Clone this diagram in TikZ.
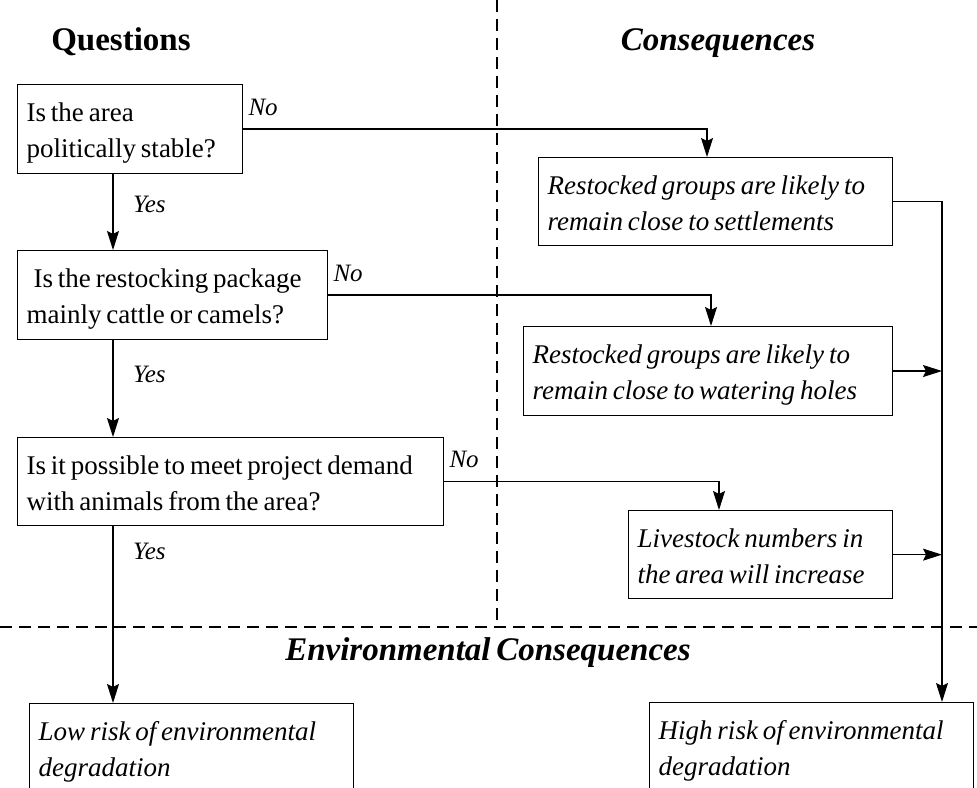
\documentclass[tikz,border=0pt]{standalone}
\usepackage{fontspec}
\setmainfont{Liberation Serif}[WordSpace=0.7]
\usetikzlibrary{arrows.meta}
\newcommand{\bxtop}{\hyphenpenalty=10000\spaceskip=0.18em\noindent\rule{0pt}{27pt}}
\newcommand{\bxbot}{\rule[-5pt]{0pt}{5pt}}

\begin{document}
\begin{tikzpicture}[x=1pt,y=-1pt,
  box/.style={draw,line width=1.3pt,anchor=north west,inner xsep=9pt,inner ysep=10pt,align=left,
    font=\fontsize{27}{36}\selectfont,execute at begin node=\bxtop,execute at end node=\bxbot},
  cbox/.style={box,font=\fontsize{27}{36}\selectfont\itshape},
  lbl/.style={font=\fontsize{25}{30}\selectfont\itshape,anchor=base west,inner sep=0pt},
  ttl/.style={font=\fontsize{33}{40}\selectfont\bfseries,anchor=base,inner sep=0pt},
  ittl/.style={ttl,font=\fontsize{33}{40}\selectfont\bfseries\itshape},
  arr/.style={line width=1.2pt,-{Stealth[length=19pt,width=12pt,inset=3pt]}},
  sep/.style={line width=2.2pt,dash pattern=on 12pt off 7pt}]
  \clip (0,0) rectangle (977,787);
  \draw[sep] (0,627) -- (977,627);
  \draw[sep] (497,0) -- (497,627);
  \node[ttl] (tq) at (121,50) {Questions};
  \node[ittl] (tc) at (718,50) {Consequences};
  \node[ittl] (te) at (488,660) {Environmental Consequences};
  \node[box,text width=207pt] (q1) at (17,84) {Is the area\\politically stable?};
  \node[box,text width=292pt] (q2) at (17,250) {\hspace*{7pt}Is the restocking package\\mainly cattle or camels?};
  \node[box,text width=408pt] (q3) at (17,437) {Is it possible to meet project demand\\with animals from the area?};
  \node[cbox,text width=336pt] (c1) at (538,157) {Restocked groups are likely to\\remain close to settlements};
  \node[cbox,text width=351pt] (c2) at (523,326) {Restocked groups are likely to\\remain close to watering holes};
  \node[cbox,text width=246pt] (c3) at (628,510) {Livestock numbers in\\the area will increase};
  \node[cbox,text width=306pt] (low) at (29,703) {Low risk of environmental\\degradation};
  \node[cbox,text width=306pt] (high) at (649,702) {High risk of environmental\\degradation};
  \foreach \n/\b in {1/q1,2/q2,3/q3}{\node[lbl] (no\n) at ([xshift=5pt,yshift=14pt]\b.east) {No};}
  \foreach \n/\y in {1/212,2/382,3/559}{\node[lbl] (yes\n) at (133,\y) {Yes};}
  \coordinate (ax) at (113,0);
  \coordinate (rx) at (942,0);
  \foreach \a/\b in {q1/q2,q2/q3,q3/low}{\draw[arr] (\a.south -| ax) -- (\b.north -| ax);}
  \foreach \a/\b/\x in {q1/c1/707,q2/c2/711,q3/c3/719}{%
    \coordinate (t) at (\x,0);
    \draw[arr] (\a.east) -| (t |- \b.north);}
  \draw[arr] (c1.east) -| (rx |- high.north);
  \foreach \b in {c2,c3}{\draw[arr] (\b.east) -- (rx |- \b.east);}
\end{tikzpicture}
\end{document}
